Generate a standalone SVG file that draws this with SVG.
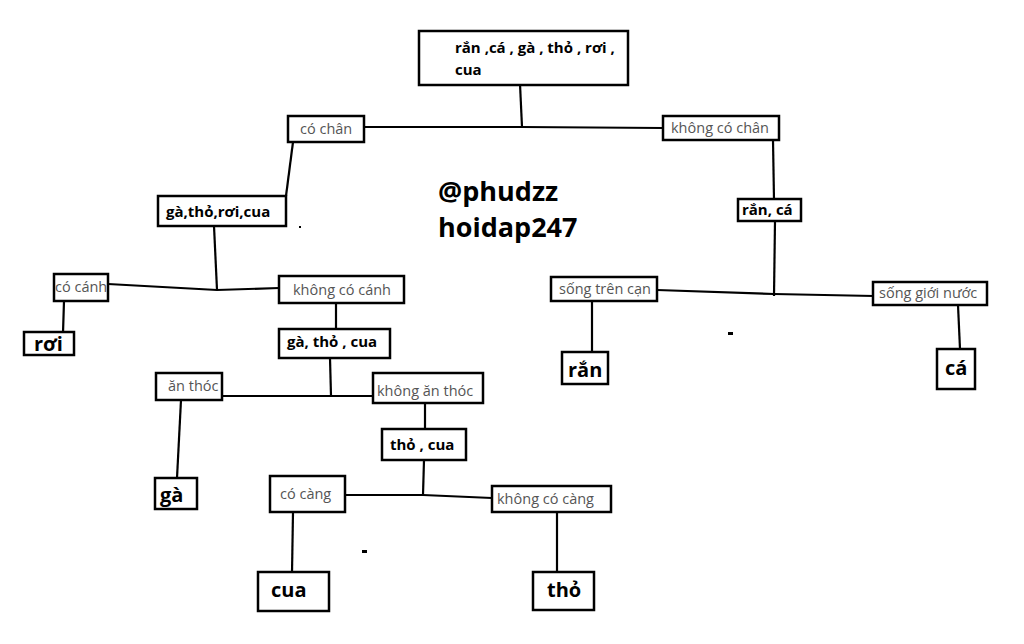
<svg xmlns="http://www.w3.org/2000/svg" width="1024" height="644" viewBox="0 0 1024 644">
<style>
.b{fill:#fff;stroke:#000;stroke-width:2.5}
.g{font-family:"Open Sans","Noto Sans",sans-serif;font-size:14.5px;fill:#555}
.k{font-family:"Open Sans","Noto Sans",sans-serif;font-size:15px;font-weight:bold;fill:#000}
.K{font-family:"Open Sans","Noto Sans",sans-serif;font-size:20px;font-weight:bold;fill:#000}
.w{font-family:"Open Sans","Noto Sans",sans-serif;font-size:27px;font-weight:bold;fill:#000}
.c{fill:none;stroke:#000;stroke-width:2.2}
</style>
<rect width="1024" height="644" fill="#fff"/>
<g id="connectors">
<path class="c" d="M520,84 L522,127"/>
<path class="c" d="M364,127 L522,127 L663,128"/>
<path class="c" d="M293,142 L286,196"/>
<path class="c" d="M773,140 L774,200"/>
<path class="c" d="M214,226 L217,290"/>
<path class="c" d="M108,284 L217,290 L279,288"/>
<path class="c" d="M64,301 L63,333"/>
<path class="c" d="M336,303 L336,330"/>
<path class="c" d="M330,358 L331,396"/>
<path class="c" d="M221,396 L331,396 L374,396"/>
<path class="c" d="M181,400 L177,478"/>
<path class="c" d="M425,403 L425,430"/>
<path class="c" d="M424,460 L423,495"/>
<path class="c" d="M346,495 L423,495 L492,498"/>
<path class="c" d="M293,512 L292,573"/>
<path class="c" d="M557,512 L557,572"/>
<path class="c" d="M775,221 L774,296"/>
<path class="c" d="M657,290 L774,294 L874,296"/>
<path class="c" d="M592,301 L592,352"/>
<path class="c" d="M958,305 L960,349"/>
</g>
<g id="root"><rect class="b" x="419" y="31" width="209" height="54"/><text class="k" x="455" y="53">rắn ,cá , gà , thỏ , rơi ,</text><text class="k" x="455" y="75">cua</text></g>
<g id="co-chan"><rect class="b" x="288" y="116" width="76" height="26"/><text class="g" x="300" y="134">có chân</text></g>
<g id="khong-co-chan"><rect class="b" x="663" y="116" width="116" height="24"/><text class="g" x="671" y="133">không có chân</text></g>
<g id="ga-tho-roi-cua"><rect class="b" x="158" y="196" width="128" height="30"/><text class="k" x="166" y="217">gà,thỏ,rơi,cua</text></g>
<g id="ran-ca"><rect class="b" x="738" y="199" width="63" height="22"/><text class="k" x="742" y="215">rắn, cá</text></g>
<g id="co-canh"><rect class="b" x="54" y="274" width="54" height="27"/><text class="g" x="55" y="292">có cánh</text></g>
<g id="khong-co-canh"><rect class="b" x="279" y="276" width="125" height="27"/><text class="g" x="293" y="295">không có cánh</text></g>
<g id="roi"><rect class="b" x="24" y="332" width="50" height="23"/><text class="K" x="34" y="351">rơi</text></g>
<g id="ga-tho-cua"><rect class="b" x="279" y="329" width="111" height="29"/><text class="k" x="287" y="347">gà, thỏ , cua</text></g>
<g id="an-thoc"><rect class="b" x="156" y="373" width="66" height="27"/><text class="g" x="168" y="391">ăn thóc</text></g>
<g id="khong-an-thoc"><rect class="b" x="373" y="373" width="110" height="30"/><text class="g" x="377" y="396">không ăn thóc</text></g>
<g id="ga"><rect class="b" x="155" y="478" width="42" height="31"/><text class="K" x="160" y="502">gà</text></g>
<g id="tho-cua"><rect class="b" x="382" y="429" width="84" height="31"/><text class="k" x="390" y="450">thỏ , cua</text></g>
<g id="co-cang"><rect class="b" x="270" y="476" width="75" height="36"/><text class="g" x="280" y="499">có càng</text></g>
<g id="khong-co-cang"><rect class="b" x="492" y="486" width="119" height="26"/><text class="g" x="497" y="504">không có càng</text></g>
<g id="cua"><rect class="b" x="258" y="572" width="71" height="39"/><text class="K" x="271" y="597">cua</text></g>
<g id="tho"><rect class="b" x="533" y="572" width="61" height="38"/><text class="K" x="547" y="597">thỏ</text></g>
<g id="song-tren-can"><rect class="b" x="551" y="277" width="106" height="24"/><text class="g" x="559" y="294">sống trên cạn</text></g>
<g id="song-gioi-nuoc"><rect class="b" x="873" y="282" width="114" height="23"/><text class="g" x="879" y="298">sống giới nước</text></g>
<g id="ran"><rect class="b" x="562" y="352" width="46" height="32"/><text class="K" x="568" y="377">rắn</text></g>
<g id="ca"><rect class="b" x="937" y="349" width="38" height="40"/><text class="K" x="945" y="375">cá</text></g>
<g id="marks">
<text class="w" x="438" y="201">@phudzz</text>
<text class="w" x="438" y="237">hoidap247</text>
<rect x="299" y="226" width="2" height="2" fill="#000"/>
<rect x="728" y="332" width="5" height="3" fill="#000"/>
<rect x="362" y="550" width="5" height="3" fill="#000"/>
</g>
</svg>
